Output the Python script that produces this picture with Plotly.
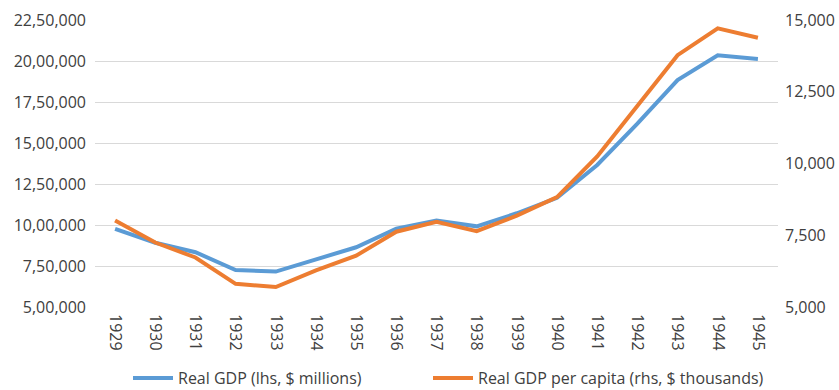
import plotly.graph_objects as go

years = ["1929", "1930", "1931", "1932", "1933", "1934", "1935", "1936", "1937",
         "1938", "1939", "1940", "1941", "1942", "1943", "1944", "1945"]
real_gdp = [977000, 892000, 834200, 725200, 715800, 792900, 864200, 977000, 1027100,
            991800, 1071600, 1165900, 1366100, 1618200, 1883100, 2035200, 2012400]
real_gdp_pc = [8016, 7246, 6725, 5808, 5697, 6273, 6790, 7624, 7969,
               7640, 8183, 8830, 10243, 12004, 13773, 14711, 14381]
left_tickvals = [500000, 750000, 1000000, 1250000, 1500000, 1750000, 2000000, 2250000]
left_ticktext = ["5,00,000", "7,50,000", "10,00,000", "12,50,000", "15,00,000",
                 "17,50,000", "20,00,000", "22,50,000"]
right_tickvals = [5000, 7500, 10000, 12500, 15000]
right_ticktext = ["5,000", "7,500", "10,000", "12,500", "15,000"]

BLUE = "#5B9BD5"
ORANGE = "#ED7D31"
TXT = "#404040"
FONT = "Open Sans"

fig = go.Figure()
fig.add_trace(go.Scatter(x=years, y=real_gdp, mode="lines", name="Real GDP (lhs, $ millions)",
                         line=dict(color=BLUE, width=4), yaxis="y", legend="legend"))
fig.add_trace(go.Scatter(x=years, y=real_gdp_pc, mode="lines",
                         name="Real GDP per capita (rhs, $ thousands)",
                         line=dict(color=ORANGE, width=4), yaxis="y2", legend="legend2"))

leg_common = dict(orientation="h", yanchor="middle", y=-(378 - 307) / 287, xanchor="left",
                  font=dict(size=16, color=TXT), bgcolor="rgba(0,0,0,0)",
                  itemwidth=40)

fig.update_layout(
    width=839, height=390,
    margin=dict(l=95, r=61, t=20, b=83, autoexpand=False),
    paper_bgcolor="white", plot_bgcolor="white",
    font=dict(family=FONT, size=16, color=TXT),
    xaxis=dict(type="category", range=[-0.5, 16.5], tickangle=90, showgrid=False,
               showline=False, zeroline=False, ticks="", ticklabelstandoff=6,
               automargin=False, tickfont=dict(size=16, color=TXT)),
    yaxis=dict(range=[500000, 2250000], tickvals=left_tickvals, ticktext=left_ticktext,
               showgrid=True, gridcolor="#D9D9D9", gridwidth=1, zeroline=False,
               showline=False, ticks="", ticklabelstandoff=8, automargin=False,
               tickfont=dict(size=16, color=TXT)),
    yaxis2=dict(range=[5000, 15000], tickvals=right_tickvals, ticktext=right_ticktext,
                overlaying="y", side="right", showgrid=False, zeroline=False,
                showline=False, ticks="", ticklabelstandoff=6, automargin=False,
                tickfont=dict(size=16, color=TXT)),
    legend=dict(leg_common, x=(128 - 95) / 683),
    legend2=dict(leg_common, x=(428 - 95) / 683),
    showlegend=True,
)

fig.write_html("out.html")
